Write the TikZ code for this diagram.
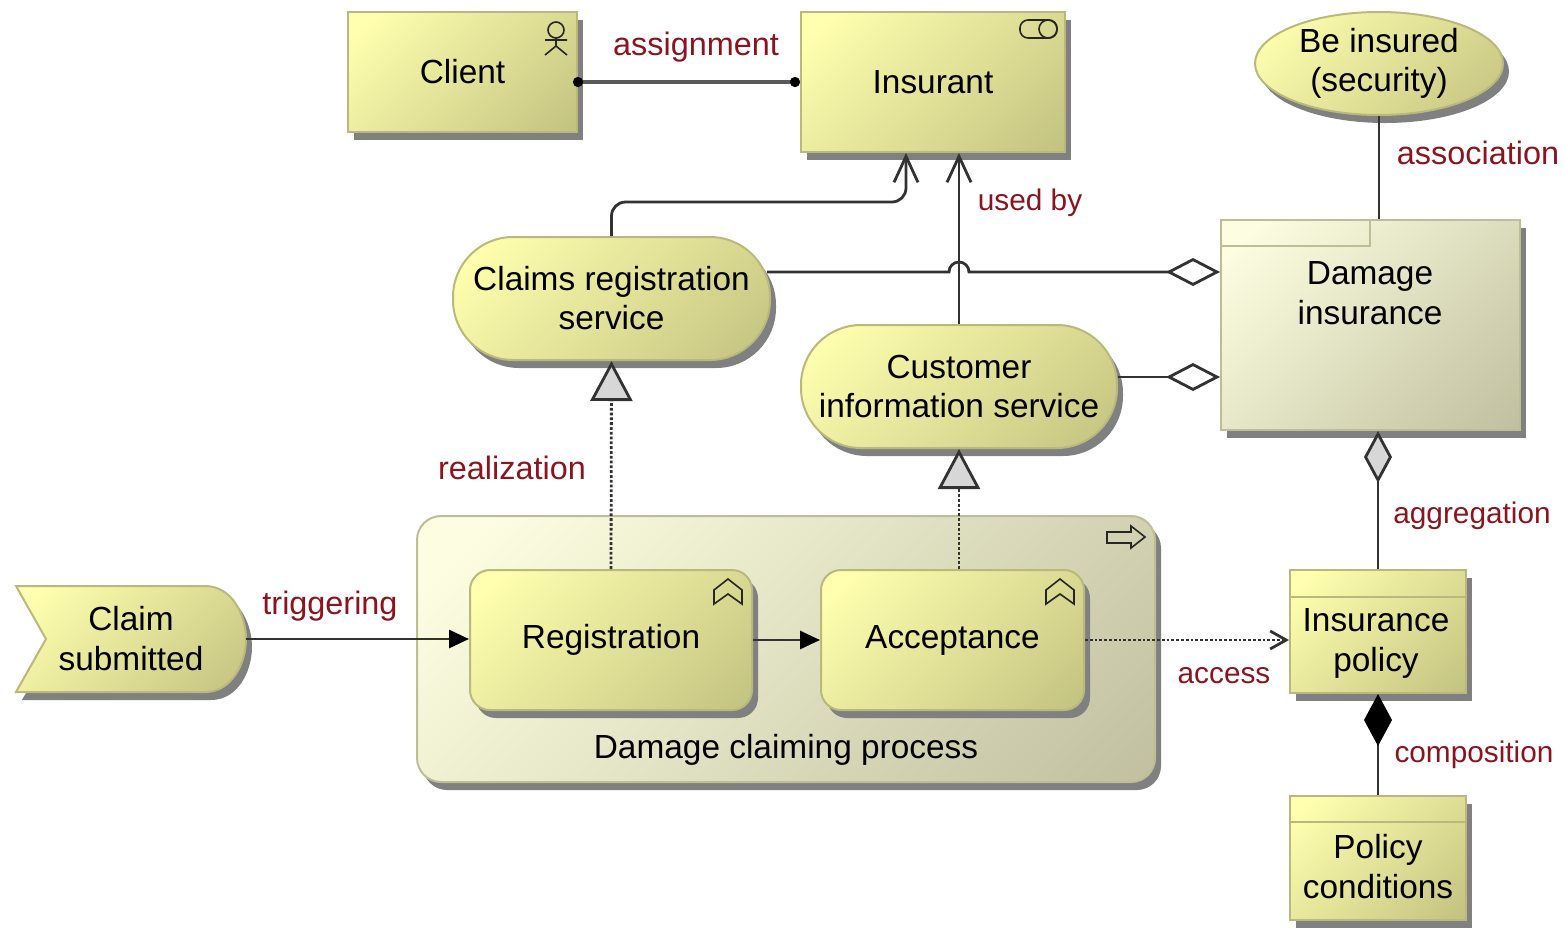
\documentclass[tikz,border=0pt]{standalone}
\usepackage{fontspec}
\setmainfont{Liberation Sans}
\usetikzlibrary{arrows.meta,shadows,shapes.geometric}
\definecolor{amborder}{RGB}{185,185,125}
\definecolor{ampaleborder}{RGB}{190,190,150}
\definecolor{amshadow}{RGB}{128,128,128}
\definecolor{amred}{RGB}{140,20,30}
\definecolor{amline}{RGB}{50,50,50}
\definecolor{amtip}{RGB}{215,215,215}
\pgfdeclareverticalshading{amyellowfade}{100bp}{rgb(0bp)=(0.745,0.745,0.49); rgb(10bp)=(0.745,0.745,0.49); rgb(80bp)=(1,1,0.686); rgb(100bp)=(1,1,0.686)}
\pgfdeclareverticalshading{ampalefade}{100bp}{rgb(0bp)=(0.737,0.737,0.608); rgb(10bp)=(0.737,0.737,0.608); rgb(80bp)=(0.992,0.992,0.882); rgb(100bp)=(0.992,0.992,0.882)}
\tikzset{
  amshade/.style={drop shadow={shadow xshift=3pt,shadow yshift=-4pt,fill=amshadow,opacity=1}},
  yellowbox/.style={amshade,draw=amborder,line width=1pt,shade,shading=amyellowfade,shading angle=45,
    inner sep=0pt,align=center,font=\fontsize{16.7}{19.5}\selectfont},
  palebox/.style={yellowbox,draw=ampaleborder,shading=ampalefade,shading angle=45},
  bodytext/.style={align=center,inner sep=0pt,font=\fontsize{16.7}{20}\selectfont},
  relname/.style={text=amred,inner sep=0pt,font=\fontsize{16.2}{18}\selectfont},
  relsmall/.style={relname,font=\fontsize{14.9}{18}\selectfont},
  relline/.style={draw=amline,line width=1.4pt},
  icon/.style={draw=black!85,line width=0.8pt},
  openend/.style={-{Straight Barb[length=13pt,width=12pt]}},
  realizes/.style={relline,densely dotted,-{Triangle[length=20pt,width=21pt,fill=amtip]}},
  blackend/.style={-{Triangle[length=10pt,width=9pt,black]}},
  openkite/.style={-{Diamond[length=27pt,width=14pt,fill=white]}}
}
\begin{document}
\begin{tikzpicture}[x=0.5pt,y=-0.5pt]
\useasboundingbox (0,0) rectangle (1564,927);

% Business layer top
\node[yellowbox,minimum width=114.5pt,minimum height=60pt] (client) at (462.5,72) {Client};
\node[yellowbox,minimum width=132pt,minimum height=70pt] (insurant) at (933,82) {Insurant};
\node[yellowbox,shape=ellipse,minimum width=124pt,minimum height=51.5pt] (security) at (1379,63.5) {Be insured\\(security)};

% Services
\node[yellowbox,rounded corners=30pt,minimum width=158.5pt,minimum height=61.5pt] (claims) at (611.5,298.5) {Claims registration\\service};
\node[yellowbox,rounded corners=30pt,minimum width=158pt,minimum height=61.5pt] (customer) at (959,386.5) {Customer\\information service};

% Damage insurance product
\node[palebox,minimum width=149.5pt,minimum height=105pt] (damage) at (1370.5,325) {};
\draw[ampaleborder,line width=1pt] (1222,246) -- (1370,246) -- (1370,221);
\node[bodytext] (damagetext) at (1370,293) {Damage\\insurance};

% Process group
\node[palebox,rounded corners=12pt,minimum width=369pt,minimum height=133pt] (process) at (786,649) {};
\node[bodytext] (processtext) at (786,750) {Damage claiming process};
\node[yellowbox,rounded corners=10pt,minimum width=141pt,minimum height=70pt] (registration) at (611,640) {Registration};
\node[yellowbox,rounded corners=10pt,minimum width=131.5pt,minimum height=70pt] (acceptance) at (952.5,640) {Acceptance};

% Event
\path[yellowbox] (16,586) -- (205,586) .. controls (232,586) and (246,615) .. (246,639)
  .. controls (246,663) and (232,692) .. (205,692) -- (16,692) -- (46,639) -- cycle;
\node[bodytext,minimum width=115pt,minimum height=53pt] (claim) at (131,639) {};
\node[bodytext] (claimtext) at (131,639) {Claim\\submitted};

% Data objects
\node[yellowbox,minimum width=88pt,minimum height=61.5pt] (ipolicy) at (1378,631.5) {};
\draw[amborder,line width=1pt] (1291,597) -- (1465,597);
\node[bodytext] (ipolicytext) at (1376,643) {Insurance\\policy};
\node[yellowbox,minimum width=88pt,minimum height=62pt] (conditions) at (1378,858) {};
\draw[amborder,line width=1pt] (1291,822) -- (1465,822);
\node[bodytext] (conditionstext) at (1378,867) {Policy\\conditions};

% Connectors
\draw[relline,line width=2pt,draw=black!65,{Circle[length=5pt,black]}-{Circle[length=5pt,black]},shorten <=-2.5pt] (client.east |- insurant.west) -- (insurant.west);
\draw[relline,openend,rounded corners=7pt] (claims.north) -- (claims.north |- 0,202) -- ([xshift=-13.5pt]insurant.south |- 0,202) -- ([xshift=-13.5pt]insurant.south);
\draw[relline,openend] (customer.north) -- (customer.north |- insurant.south);
\draw[relline] (security.south) -- (security.south |- damage.north);
\coordinate (dampa) at ([yshift=26.5pt]damage.west);
\coordinate (dampb) at ([yshift=-26pt]damage.west);
\coordinate (hop) at (customer.north |- dampa);
\draw[relline,openkite] ([xshift=-2pt]claims.east |- dampa) -- ([xshift=-5pt]hop) arc[start angle=180,end angle=0,radius=5pt] -- (dampa);
\draw[relline,openkite] (customer.east |- dampb) -- (dampb);
\draw[relline,-{Diamond[length=26pt,width=14pt,fill=amtip]}] (ipolicy.north) -- (ipolicy.north |- damage.south);
\draw[relline,-{Diamond[length=26pt,width=14pt,black]}] (conditions.north) -- (ipolicy.south);
\draw[relline,blackend] (claim.east) -- (registration.west |- claim.east);
\draw[relline,blackend] (registration.east) -- (acceptance.west);
\draw[relline,densely dotted,-{Straight Barb[length=8pt,width=9pt]}] (acceptance.east) -- (ipolicy.west |- acceptance.east);
\draw[realizes] (registration.north) -- (claims.south);
\draw[realizes] (customer.south |- acceptance.north) -- (customer.south);

% Icons
\draw[icon] (556,30) circle[radius=4pt];
\draw[icon] (556,38) -- (556,46) (545,40) -- (567,40) (545,55) -- (556,46) -- (567,55);
\draw[icon,rounded corners=4pt] (1020,20) rectangle (1057,38);
\draw[icon] (1048,29) circle[radius=4.5pt];
\foreach \px in {728,1060} {
  \draw[icon] (\px-14,604) -- (\px-14,590) -- (\px,579) -- (\px+14,590) -- (\px+14,604) -- (\px,594) -- cycle;
}
\draw[icon] (1107,532) -- (1131,532) -- (1131,526) -- (1145,537) -- (1131,548) -- (1131,543) -- (1107,543) -- cycle;

% Labels
\node[relname] (lblassign) at (696,47) {assignment};
\node[relsmall] (lblused) at (1030,203) {used by};
\node[relname] (lblassoc) at (1478,153) {association};
\node[relsmall] (lblaggr) at (1472,516) {aggregation};
\node[relsmall] (lblcomp) at (1474,755) {composition};
\node[relsmall] (lblaccess) at (1224,676) {access};
\node[relname] (lbltrig) at (330,606) {triggering};
\node[relname] (lblreal) at (512,468) {realization};
\end{tikzpicture}
\end{document}
